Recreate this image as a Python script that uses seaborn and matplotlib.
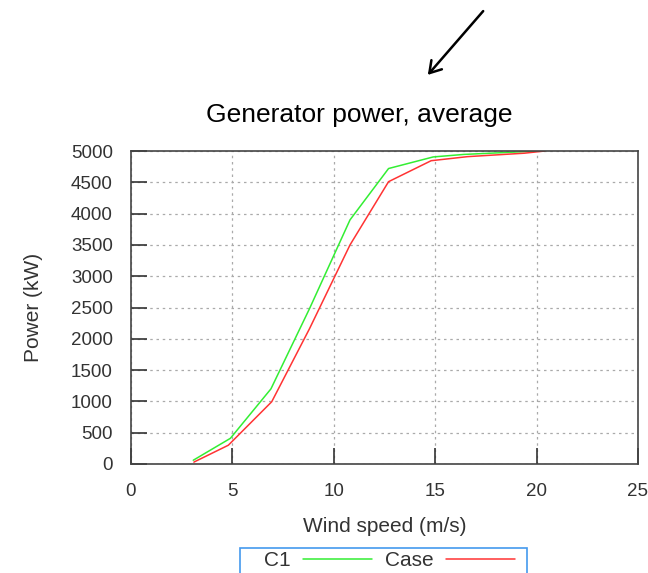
import matplotlib
matplotlib.use("Agg")
import matplotlib.pyplot as plt
import matplotlib.patches as mpatches
from matplotlib.lines import Line2D
import seaborn as sns
import pandas as pd

# Data
wind_c1 = [3.07, 4.9, 6.9, 8.8, 10.8, 12.7, 14.9, 16.4, 18.4, 19.4, 20.4]
power_c1 = [60, 410, 1200, 2480, 3900, 4720, 4905, 4945, 4975, 4990, 5000]
wind_case = [3.1, 4.8, 6.94, 8.8, 10.8, 12.7, 14.8, 16.6, 19.4, 20.4]
power_case = [30, 300, 995, 2160, 3500, 4510, 4845, 4910, 4965, 5000]
series_names = ["C1", "Case"]
x_ticks = [0, 5, 10, 15, 20, 25]
y_ticks = [0, 500, 1000, 1500, 2000, 2500, 3000, 3500, 4000, 4500, 5000]

df = pd.concat([
    pd.DataFrame({"wind": wind_c1, "power": power_c1, "series": series_names[0]}),
    pd.DataFrame({"wind": wind_case, "power": power_case, "series": series_names[1]}),
], ignore_index=True)

sns.set_theme(style="white")
plt.rcParams["font.family"] = ["Liberation Sans", "DejaVu Sans"]
text_color = "#333333"
green = "#33ee33"
red = "#ff3333"

fig = plt.figure(figsize=(6.48, 5.73), dpi=100)
ax = fig.add_axes([131 / 648, 1 - 464 / 573, 507 / 648, 313 / 573])

sns.lineplot(data=df, x="wind", y="power", hue="series", sort=False,
             palette={"C1": green, "Case": red}, linewidth=1.1,
             estimator=None, ax=ax, legend=False)

ax.set_xlim(0, 25)
ax.set_ylim(0, 5000)
ax.set_xticks(x_ticks)
ax.set_yticks(y_ticks)
ax.grid(True, color="#aaaaaa", linestyle=(0, (2, 3)), linewidth=0.9)
for s in ax.spines.values():
    s.set_color("#444444")
    s.set_linewidth(1.2)
ax.tick_params(axis="both", direction="in", length=11.5, width=1.2, color="#333333",
               labelsize=13.5, labelcolor=text_color, pad=13,
               bottom=True, left=True, top=False, right=False)
ax.tick_params(axis="x", pad=14)
ax.set_xlabel("Wind speed (m/s)", fontsize=15, color=text_color, labelpad=12)
ax.set_ylabel("Power (kW)", fontsize=15, color=text_color, labelpad=20)

fig.text(359 / 648, 1 - 115 / 573, "Generator power, average", ha="center", va="center",
         fontsize=19, color="black")

# Arrow at the top
fig.add_artist(mpatches.FancyArrowPatch(
    (485 / 648, 1 - 9 / 573), (426 / 648, 1 - 77 / 573), transform=fig.transFigure,
    arrowstyle="->,head_length=8,head_width=5", color="black", linewidth=1.8,
    mutation_scale=1))

# Legend (frame drawn separately, cut by the figure's bottom edge)
handles = [Line2D([], [], color=green, linewidth=1.1),
           Line2D([], [], color=red, linewidth=1.1)]
leg = fig.legend(handles, series_names, loc="center", ncol=2,
                 bbox_to_anchor=(389.5 / 648, 1 - 561 / 573), markerfirst=False,
                 frameon=False, fontsize=15, handlelength=3.3, columnspacing=0.62,
                 handletextpad=0.62, borderpad=0.0, labelcolor=text_color)
fig.add_artist(mpatches.Rectangle((240 / 648, -0.01), 287 / 648, (573 - 548) / 573 + 0.01,
                                  transform=fig.transFigure, fill=False,
                                  edgecolor="#4499ee", linewidth=1.2))

fig.savefig("out.png", dpi=100)
